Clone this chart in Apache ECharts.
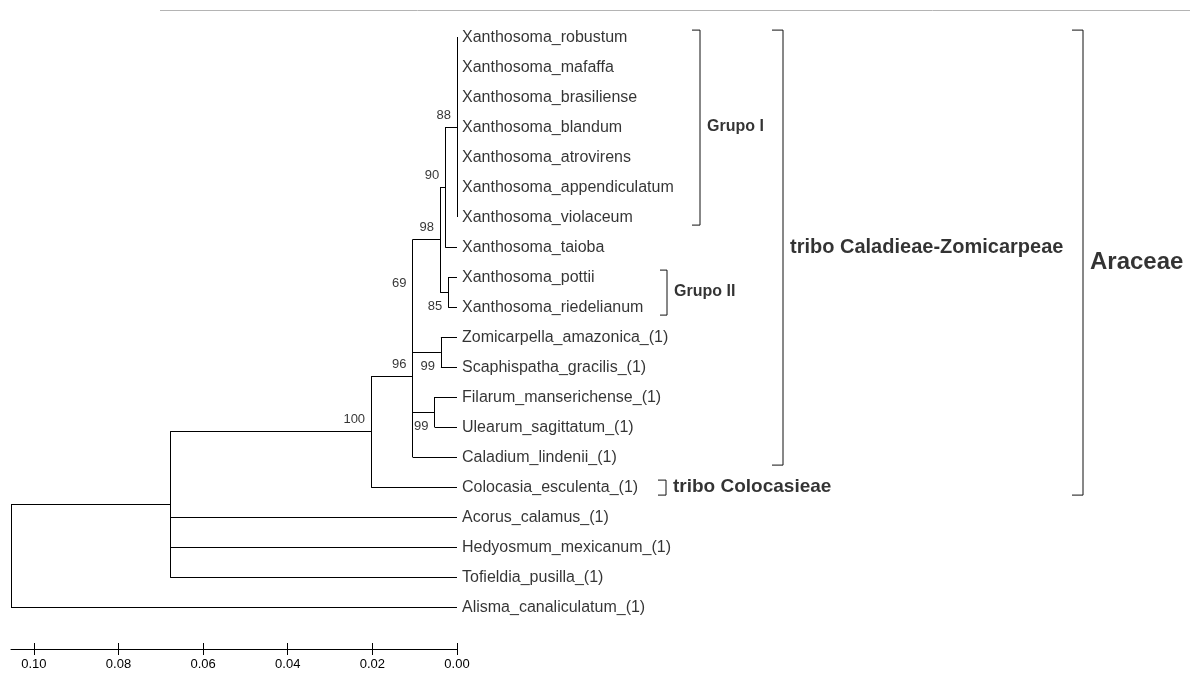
<!DOCTYPE html>
<html>
<head>
<meta charset="utf-8">
<script src="https://cdn.jsdelivr.net/npm/echarts@6/dist/echarts.min.js"></script>
<style>
html,body{margin:0;padding:0;background:#fff;}
#chart{width:1190px;height:673px;}
</style>
</head>
<body>
<div id="chart"></div>
<script>
// ---- data ----
const leafNames = [
  'Xanthosoma_robustum','Xanthosoma_mafaffa','Xanthosoma_brasiliense','Xanthosoma_blandum',
  'Xanthosoma_atrovirens','Xanthosoma_appendiculatum','Xanthosoma_violaceum','Xanthosoma_taioba',
  'Xanthosoma_pottii','Xanthosoma_riedelianum','Zomicarpella_amazonica_(1)','Scaphispatha_gracilis_(1)',
  'Filarum_manserichense_(1)','Ulearum_sagittatum_(1)','Caladium_lindenii_(1)','Colocasia_esculenta_(1)',
  'Acorus_calamus_(1)','Hedyosmum_mexicanum_(1)','Tofieldia_pusilla_(1)','Alisma_canaliculatum_(1)'
];
const nodeIds      = ['A88','A90','A85','A98','AZS','A69','AFU','A96','A100','AIN','ROOT'];
const nodeChildren = [[0,1,2,3,4,5,6],['A88',7],[8,9],['A90','A85'],[10,11],['A98','AZS'],[12,13],['A69','AFU',14],['A96',15],['A100',16,17,18],['AIN',19]];
const nodeHeight   = [0.0000,0.0028,0.0021,0.0040,0.0038,0.0105,0.0053,0.0105,0.0203,0.0678,0.1054];
const nodeSupport  = [88,90,85,98,99,69,99,96,100,null,null];
const scaleTicks   = [0,0.02,0.04,0.06,0.08,0.10];
const groupNames   = ['Grupo I','Grupo II','tribo Caladieae-Zomicarpeae','tribo Colocasieae','Araceae'];
const groupFirst   = [0,8,0,15,0];
const groupLast    = [6,9,14,15,15];

// ---- layout / style (not data) ----
const belowLabel = {A85:true, AZS:true, AFU:true};
const groupStyle = [
  {xv:700, xt:692, size:16},
  {xv:667, xt:660, size:16},
  {xv:783, xt:772, size:20},
  {xv:666, xt:658, size:19},
  {xv:1083, xt:1072, size:24}
];
const FONT = 'Liberation Sans, Arial, Helvetica, sans-serif';
const AXMAX = 0.1054;

// ---- build tree geometry from data ----
const idx = {};
nodeIds.forEach((id,i)=>idx[id]=i);
const nodeY = {};
function yOf(c){
  if (typeof c === 'number') return c;
  if (nodeY[c] !== undefined) return nodeY[c];
  const kids = nodeChildren[idx[c]];
  const y = (yOf(kids[0]) + yOf(kids[kids.length-1]))/2;
  nodeY[c] = y;
  return y;
}
function hOf(c){ return typeof c === 'number' ? 0 : nodeHeight[idx[c]]; }

const segs = [];
nodeIds.forEach((id,i)=>{
  const kids = nodeChildren[i];
  const h = nodeHeight[i];
  segs.push({coords:[[h, yOf(kids[0])],[h, yOf(kids[kids.length-1])]]});
  kids.forEach(k=>{
    segs.push({coords:[[h, yOf(k)],[hOf(k), yOf(k)]]});
  });
});

const leafPts = leafNames.map((n,i)=>({value:[0,i], name:n}));
const supportPts = [];
nodeIds.forEach((id,i)=>{
  if (nodeSupport[i] == null) return;
  const below = !!belowLabel[id];
  supportPts.push({
    value:[nodeHeight[i], yOf(id)],
    name:String(nodeSupport[i]),
    label:{offset:[0, below ? 14 : -12]}
  });
});

const bracketSegs = groupNames.map((g,i)=>{
  const s = groupStyle[i];
  const top = groupFirst[i] - 0.23, bot = groupLast[i] + 0.27;
  return {coords:[[s.xt, top],[s.xv, top],[s.xv, bot],[s.xt, bot]]};
});
const groupPts = groupNames.map((g,i)=>({
  value:[groupStyle[i].xv, (groupFirst[i]+groupLast[i])/2],
  name:g,
  label:{fontSize:groupStyle[i].size}
}));

const chart = echarts.init(document.getElementById('chart'), null, {renderer:'canvas'});
const yCommon = {type:'value', min:-0.5, max:20.4, inverse:true, show:false};
chart.setOption({
  animation:false,
  backgroundColor:'#fff',
  grid:[
    {left:11, top:22, width:446, height:627},
    {left:0, top:22, width:1190, height:627},
    {left:11, top:22, width:446, height:627}
  ],
  xAxis:[
    {gridIndex:0, type:'value', min:0, max:AXMAX, inverse:true, position:'bottom',
     splitLine:{show:false},
     axisLine:{show:true, onZero:false, lineStyle:{color:'#000', width:1}},
     axisTick:{show:true, inside:false, length:6, customValues:scaleTicks, lineStyle:{color:'#000'}},
     axisLabel:{show:true, customValues:scaleTicks, margin:9, color:'#000', fontSize:13, fontFamily:FONT,
       formatter:v=>v.toFixed(2)}},
    {gridIndex:1, type:'value', min:0, max:1190, show:false, axisLine:{onZero:false}},
    {gridIndex:2, type:'value', min:0, max:AXMAX, inverse:true, position:'bottom',
     splitLine:{show:false},
     axisLine:{show:false, onZero:false},
     axisTick:{show:true, inside:true, length:6, customValues:scaleTicks, lineStyle:{color:'#000'}},
     axisLabel:{show:false}}
  ],
  yAxis:[
    Object.assign({gridIndex:0}, yCommon),
    Object.assign({gridIndex:1}, yCommon),
    Object.assign({gridIndex:2}, yCommon)
  ],
  graphic:[
    {type:'line', shape:{x1:160, y1:10.5, x2:1190, y2:10.5}, style:{stroke:'#b4b4b4', lineWidth:1}, silent:true}
  ],
  series:[
    {type:'lines', coordinateSystem:'cartesian2d', xAxisIndex:0, yAxisIndex:0,
     polyline:false, silent:true,
     lineStyle:{color:'#000', width:1, opacity:1},
     data:segs},
    {type:'scatter', xAxisIndex:0, yAxisIndex:0, symbolSize:0, silent:true,
     label:{show:true, position:'right', distance:5, offset:[0,1], color:'#000', fontSize:16, fontFamily:FONT,
       formatter:p=>p.name},
     data:leafPts},
    {type:'scatter', xAxisIndex:0, yAxisIndex:0, symbolSize:0, silent:true,
     label:{show:true, position:'left', distance:6, color:'#000', fontSize:13, fontFamily:FONT,
       formatter:p=>p.name},
     data:supportPts},
    {type:'lines', coordinateSystem:'cartesian2d', xAxisIndex:1, yAxisIndex:1,
     polyline:true, silent:true,
     lineStyle:{color:'#111', width:1, opacity:1},
     data:bracketSegs},
    {type:'scatter', xAxisIndex:1, yAxisIndex:1, symbolSize:0, silent:true,
     label:{show:true, position:'right', distance:7, color:'#000', fontWeight:'bold', fontFamily:FONT,
       formatter:p=>p.name},
     data:groupPts}
  ]
});
</script>
</body>
</html>
